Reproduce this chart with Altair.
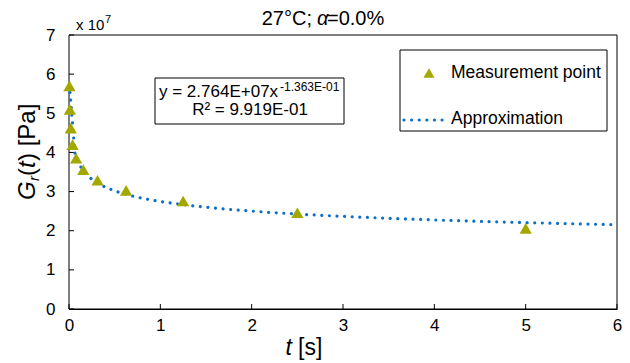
import altair as alt
import pandas as pd

# data
t_vals = [0.0048828, 0.0097656, 0.0195313, 0.0390625, 0.078125, 0.15625,
          0.3125, 0.625, 1.25, 2.5, 5.0]
g_vals = [5.70e7, 5.10e7, 4.62e7, 4.20e7, 3.85e7, 3.56e7,
          3.29e7, 3.03e7, 2.76e7, 2.46e7, 2.06e7]
x_ticks = [0, 1, 2, 3, 4, 5, 6]
y_ticks = [0, 1e7, 2e7, 3e7, 4e7, 5e7, 6e7, 7e7]

W, H = 548, 274
FONT = "Liberation Sans"
OLIVE = "#A3A800"
BLUE = "#0F6FC6"

df = pd.DataFrame({"t": t_vals, "G": g_vals})
xs = alt.Scale(domain=[0, 6], nice=False)
ys = alt.Scale(domain=[0, 7e7], nice=False)
x_axis = alt.Axis(values=x_ticks, ticks=False, labelPadding=8, title=None,
                  labelFontSize=17, labelFont=FONT, labelColor="black",
                  labelFlush=False, labelOverlap=False, format="d",
                  grid=False, domainColor="black")
y_axis = alt.Axis(values=y_ticks, ticks=False, labelPadding=14, title=None,
                  labelFontSize=17, labelFont=FONT, labelColor="black",
                  labelFlush=False, labelOverlap=False,
                  labelExpr="format(datum.value / 1e7, 'd')", grid=False,
                  domainColor="black")
X = alt.X("t:Q", scale=xs, axis=x_axis)
Y = alt.Y("G:Q", scale=ys, axis=y_axis)

base = alt.Chart(df)

frame = alt.Chart(pd.DataFrame({"a": [0]})).mark_rect(
    fill="white", stroke="black", strokeWidth=1).encode(
    x=alt.value(0), x2=alt.value(W), y=alt.value(0), y2=alt.value(H))

points = base.mark_point(shape="triangle-up", filled=True, color=OLIVE,
                         size=150, opacity=1).encode(x=X, y=Y)

fit = base.transform_regression("t", "G", method="pow", extent=[0.0045, 6]).mark_line(
    color=BLUE, strokeDash=[0.01, 7.6], strokeCap="round", strokeWidth=3.2
).encode(x=X, y=Y)

xt = alt.Chart(pd.DataFrame({"t": x_ticks})).mark_rule(color="black").encode(
    x=X, y=alt.value(H), y2=alt.value(H - 5))
yt = alt.Chart(pd.DataFrame({"G": y_ticks})).mark_rule(color="black").encode(
    y=Y, x=alt.value(0), x2=alt.value(5))


def txt(s, x, y, size=15, align="left", style="normal", angle=0, baseline="middle"):
    return alt.Chart(pd.DataFrame({"s": [s]})).mark_text(
        align=align, baseline=baseline, font=FONT, fontSize=size, fontStyle=style,
        angle=angle, color="black").encode(
        text="s:N", x=alt.value(x), y=alt.value(y))


def box(x1, x2, y1, y2):
    return alt.Chart(pd.DataFrame({"a": [0]})).mark_rect(
        fill="white", stroke="black", strokeWidth=1).encode(
        x=alt.value(x1), x2=alt.value(x2), y=alt.value(y1), y2=alt.value(y2))


layers = [
    frame, xt, yt, fit, points,
    # multiplier
    txt("x 10", 7, -10, size=15),
    txt("7", 36, -15, size=11),
    # title
    txt("27°C;", 243, -16, size=20, align="right"),
    txt("α", 248, -16, size=20, style="italic"),
    txt("=0.0%", 258, -16, size=20),
    # equation box
    box(86, 275, 43, 89),
    txt("y = 2.764E+07x", 90, 57, size=17),
    txt("-1.363E-01", 211, 52, size=12),
    txt("R² = 9.919E-01", 181, 75, size=17, align="center"),
    # legend box
    box(331, 538, 15, 96),
    alt.Chart(pd.DataFrame({"a": [0]})).mark_point(
        shape="triangle-up", filled=True, color=OLIVE, size=120, opacity=1).encode(
        x=alt.value(360), y=alt.value(38)),
    alt.Chart(pd.DataFrame({"a": [0]})).mark_rule(
        color=BLUE, strokeDash=[0.01, 7.6], strokeCap="round", strokeWidth=3.2).encode(
        x=alt.value(335), x2=alt.value(374), y=alt.value(85)),
    txt("Measurement point", 382, 38, size=17.5),
    txt("Approximation", 382, 84, size=17.5),
    # x title
    txt("t", 223, 313, size=23, align="right", style="italic"),
    txt("[s]", 229, 313, size=23),
    # y title (rotated)
    txt("G", -41, 165, size=24, style="italic", angle=270),
    txt("r", -35, 146, size=15, style="italic", angle=270),
    txt("(", -41, 141, size=24, angle=270),
    txt("t", -41, 133, size=24, style="italic", angle=270),
    txt(") [Pa]", -41, 126, size=24, angle=270),
]

chart = alt.layer(*layers).properties(
    width=W, height=H,
    autosize=alt.AutoSizeParams(type="none"),
    padding={"left": 61, "top": 27, "right": 5, "bottom": 54},
).configure_view(stroke=None).configure_axis(domainWidth=1)

chart.save("out.html", embed_options={"renderer": "svg", "actions": False})
